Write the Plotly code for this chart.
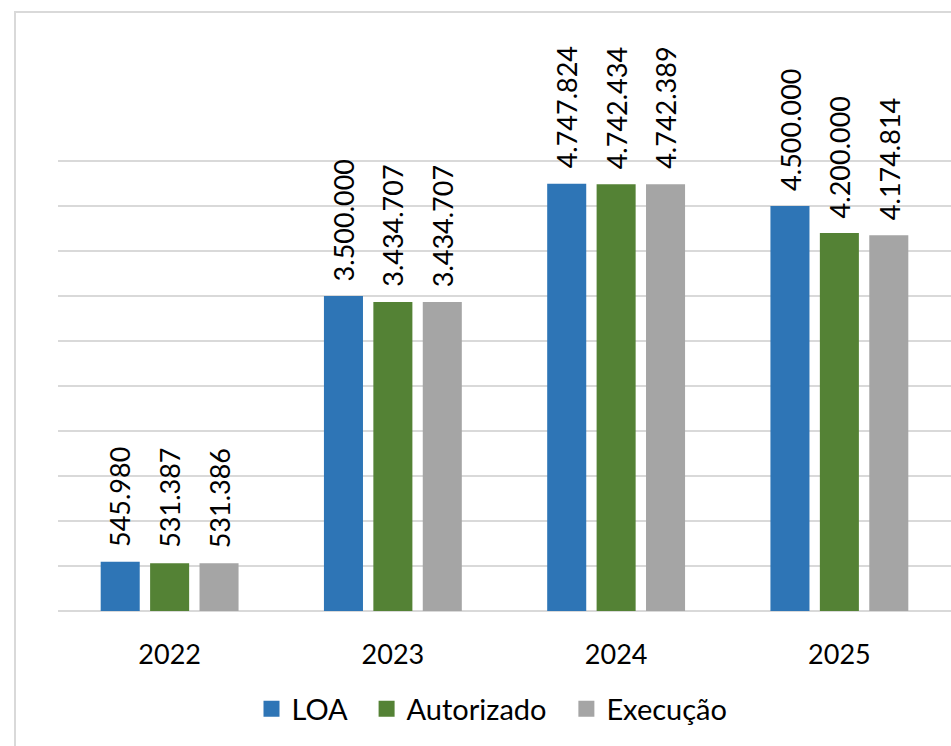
import plotly.graph_objects as go

categories = ["2022", "2023", "2024", "2025"]
loa = [545980, 3500000, 4747824, 4500000]
autorizado = [531387, 3434707, 4742434, 4200000]
execucao = [531386, 3434707, 4742389, 4174814]

series = [
    ("LOA", loa, "#2E75B6"),
    ("Autorizado", autorizado, "#548235"),
    ("Execução", execucao, "#A5A5A5"),
]

FONT = "Lato"
W, H = 951, 746
YMAX = 5000000 * 455 / 450
L, R, T, B = 58, 0, 156, 135

def fmt(v):
    return f"{v:,}".replace(",", ".")

fig = go.Figure()
for i, (name, vals, color) in enumerate(series):
    fig.add_trace(go.Bar(
        x=categories, y=vals, name=name,
        marker=dict(color=color, line=dict(width=0)),
        showlegend=False,
    ))
    pad = "\u00a0\u00a0" if i < len(series) - 1 else ""
    fig.add_trace(go.Scatter(
        x=[None], y=[None], mode="markers", name=name + pad,
        marker=dict(symbol="square", size=18, color=color),
        showlegend=True,
    ))

offsets = [-49.5, 0, 49.5]
annotations = []
for (name, vals, color), dx in zip(series, offsets):
    for ci, v in enumerate(vals):
        annotations.append(dict(
            x=ci, y=v, xref="x", yref="y", text=fmt(v),
            showarrow=False, textangle=-90,
            xanchor="center", yanchor="bottom",
            xshift=dx, yshift=13,
            font=dict(family=FONT, size=27, color="#000000"),
        ))

shapes = [dict(
    type="rect", xref="paper", yref="paper",
    x0=(15 - L) / (W - L - R), x1=1.2,
    y0=-0.6, y1=(H - B - 12) / (H - T - B),
    line=dict(color="#D9D9D9", width=2), fillcolor="rgba(0,0,0,0)",
    layer="below",
)]

fig.update_layout(
    width=W, height=H,
    margin=dict(l=L, r=R, t=T, b=B, pad=0),
    paper_bgcolor="white", plot_bgcolor="white",
    barmode="group", bargap=0.336, bargroupgap=0.21,
    font=dict(family=FONT, size=27, color="#000000"),
    xaxis=dict(
        type="category", range=[-0.5, 3.5],
        showgrid=False, showline=False, zeroline=False,
        ticks="", ticklabelstandoff=25,
        tickfont=dict(family=FONT, size=27, color="#000000"),
    ),
    yaxis=dict(
        range=[0, YMAX], tick0=0, dtick=500000,
        showgrid=True, gridcolor="#D9D9D9", gridwidth=1.5,
        zeroline=True, zerolinecolor="#D9D9D9", zerolinewidth=1.5,
        showticklabels=False, ticks="", showline=False,
    ),
    legend=dict(
        orientation="h", xref="container", yref="container",
        x=492 / W, xanchor="center", y=1 - 709 / H, yanchor="middle",
        font=dict(family=FONT, size=29, color="#000000"),
        itemsizing="trace", tracegroupgap=0, itemwidth=30,
        bgcolor="rgba(0,0,0,0)",
    ),
    annotations=annotations,
    shapes=shapes,
)

fig.write_html(
    "out.html",
    config={"displayModeBar": False},
    post_script="document.body.style.margin='0';document.body.style.overflow='hidden';",
)
